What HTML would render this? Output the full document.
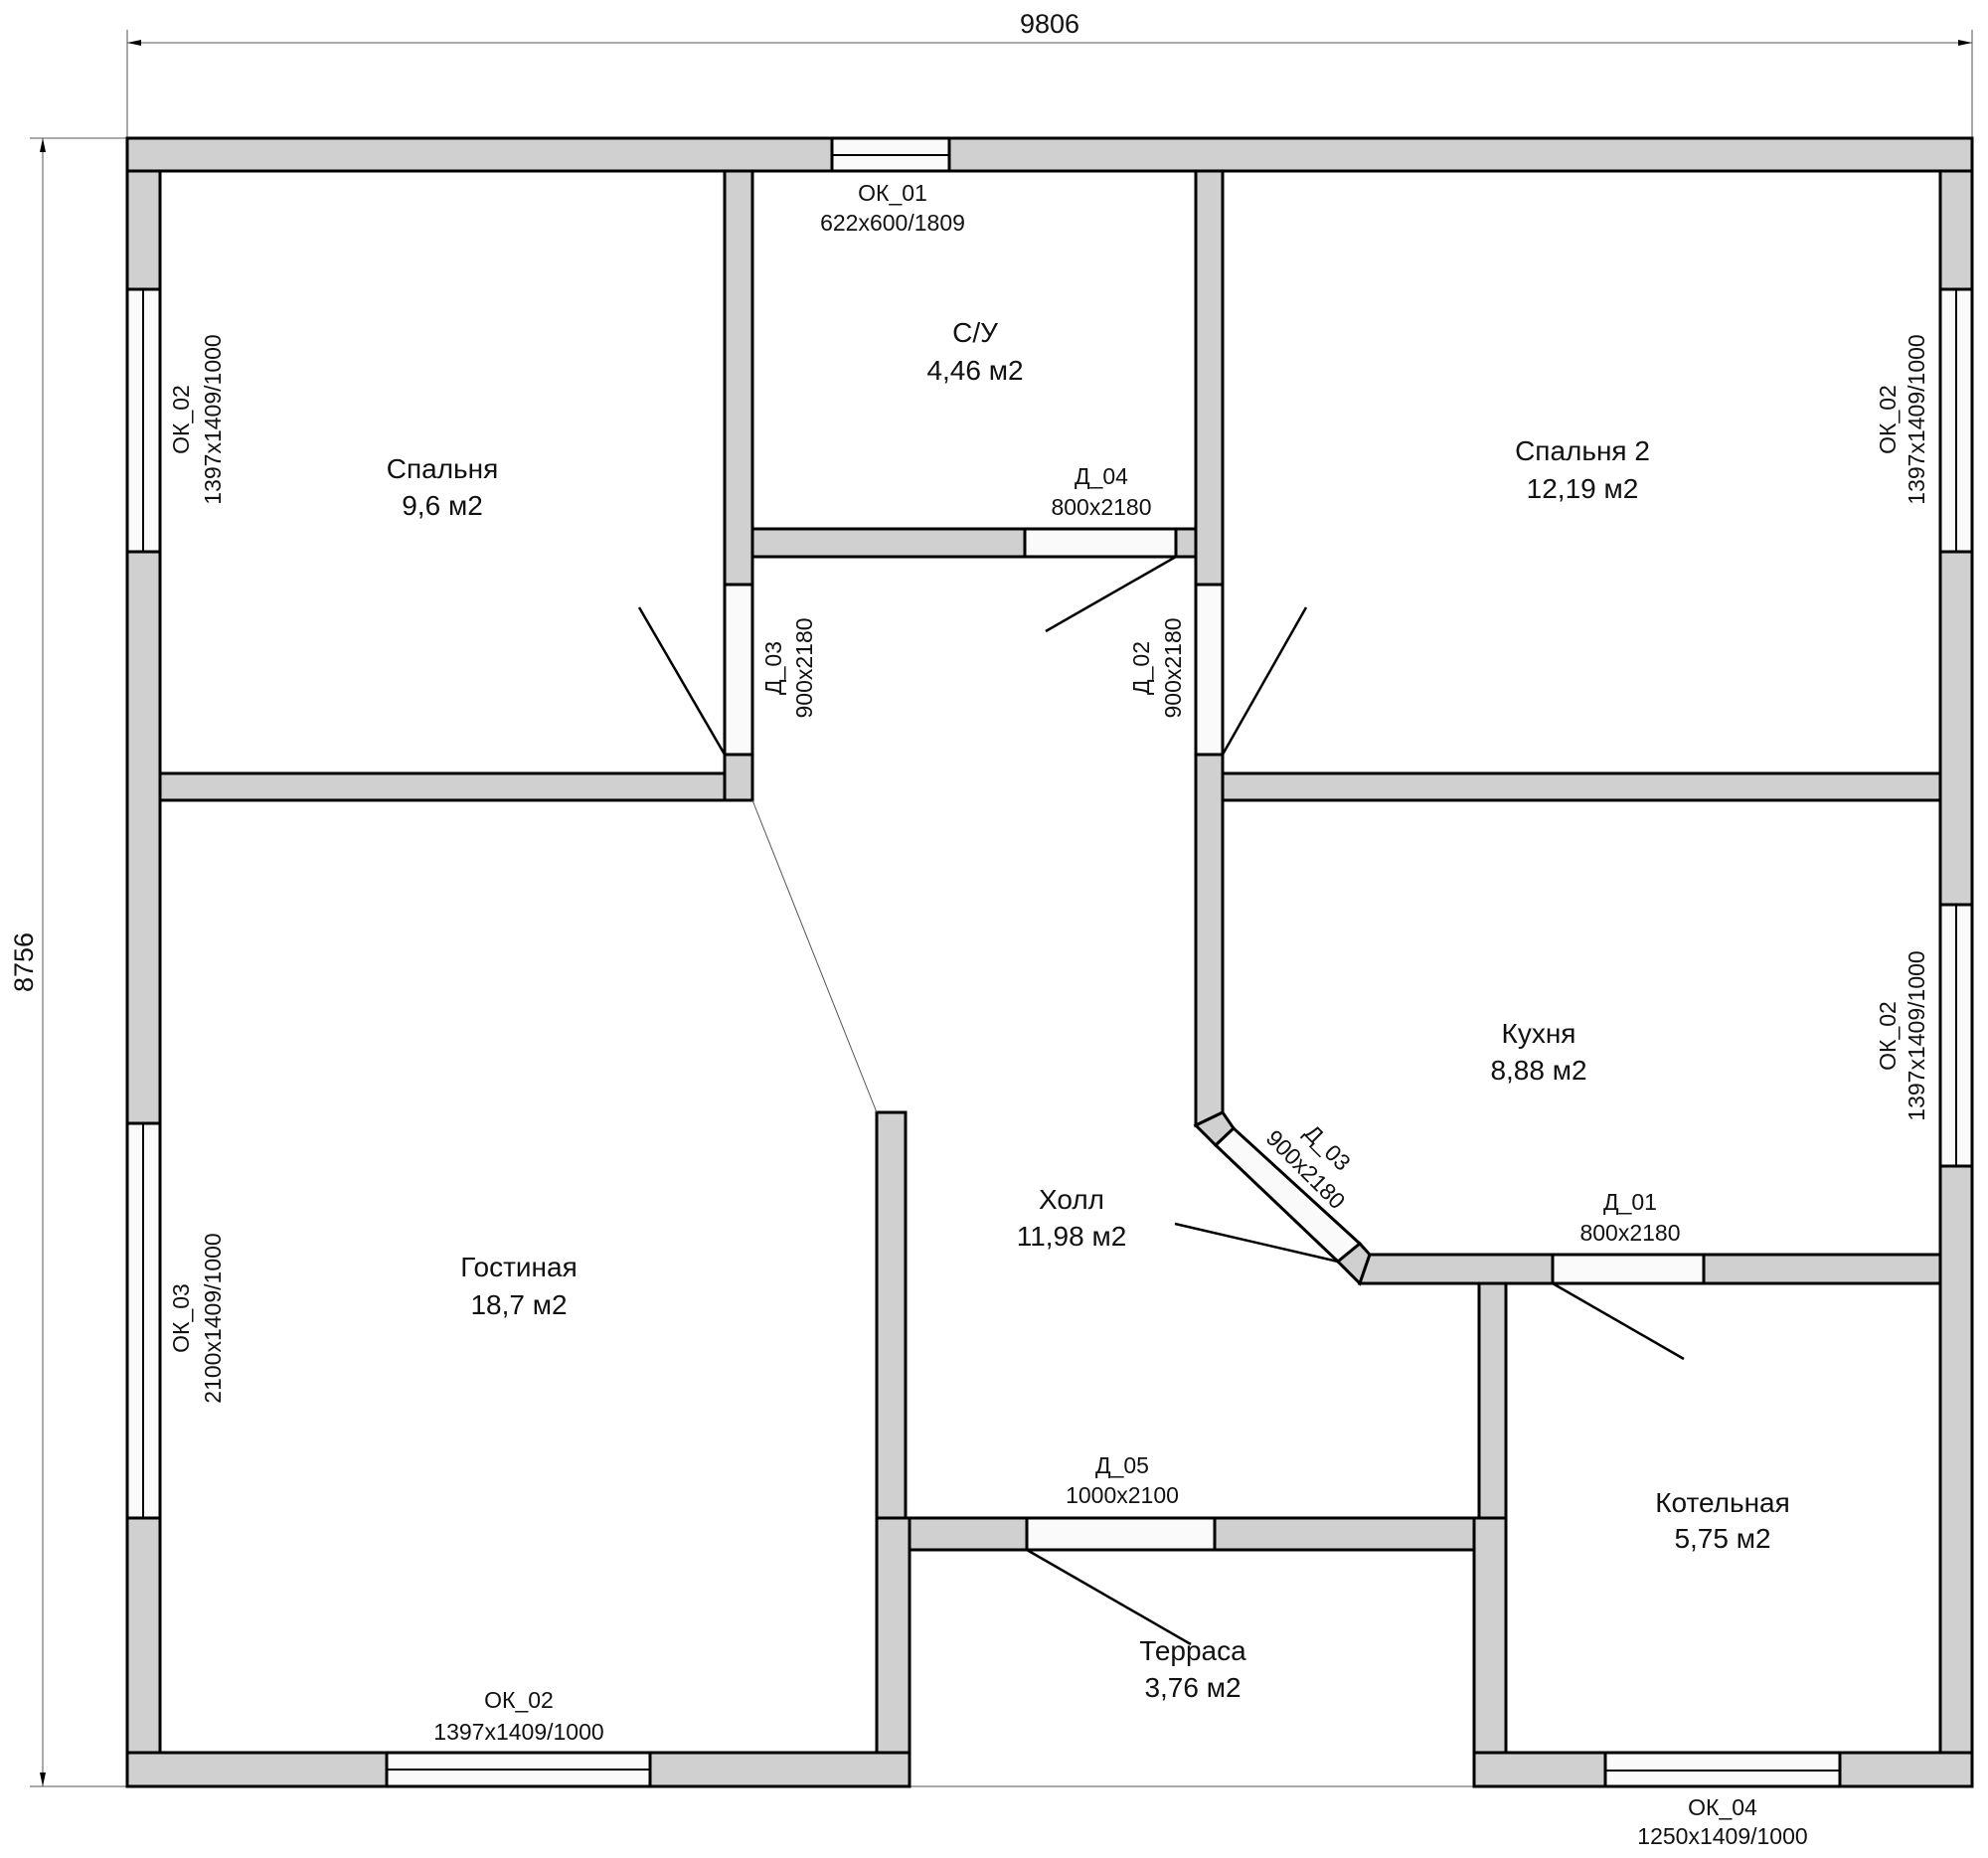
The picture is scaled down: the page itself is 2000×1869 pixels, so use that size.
<!DOCTYPE html>
<html><head><meta charset="utf-8"><style>
html,body{margin:0;padding:0;background:#fff;}
svg{display:block;}
text{font-family:"Liberation Sans",sans-serif;fill:#111;text-anchor:middle;}
.r{font-size:28px;}
.s{font-size:23px;}
.w{fill:#d0d0d0;stroke:#000;stroke-width:3;}
.o{fill:#fafafa;stroke:#000;stroke-width:3;}
.t{stroke:#000;stroke-width:2;fill:none;}
.d{stroke:#555;stroke-width:1;fill:none;}
.sw{stroke:#000;stroke-width:2.5;fill:none;}
</style></head><body>
<svg width="2000" height="1869" viewBox="0 0 2000 1869" xmlns="http://www.w3.org/2000/svg">
<line class="d" x1="128" y1="43" x2="1984" y2="43"/>
<polygon points="128,43 142,40 142,46" fill="#000"/>
<polygon points="1984,43 1970,40 1970,46" fill="#000"/>
<line class="d" x1="128" y1="30" x2="128" y2="139"/>
<line class="d" x1="1984" y1="30" x2="1984" y2="139"/>
<text x="1056" y="33" style="font-size:27px">9806</text>
<line class="d" x1="43" y1="139" x2="43" y2="1797"/>
<polygon points="43,139 40,153 46,153" fill="#000"/>
<polygon points="43,1797 40,1783 46,1783" fill="#000"/>
<line class="d" x1="30" y1="139" x2="128" y2="139"/>
<line class="d" x1="30" y1="1797" x2="1483" y2="1797"/>
<text transform="translate(33,968) rotate(-90)" style="font-size:27px">8756</text>

<rect class="w" x="128" y="139" width="709" height="33"/>
<rect class="w" x="955" y="139" width="1029" height="33"/>
<rect class="o" x="837" y="139" width="118" height="33"/>
<line class="t" x1="837" y1="156" x2="955" y2="156"/>
<rect class="w" x="128" y="172" width="33" height="119"/>
<rect class="o" x="128" y="291" width="33" height="264"/><line class="t" x1="144" y1="291" x2="144" y2="555"/>
<rect class="w" x="128" y="555" width="33" height="575"/>
<rect class="o" x="128" y="1130" width="33" height="397"/><line class="t" x1="144" y1="1130" x2="144" y2="1527"/>
<rect class="w" x="128" y="1527" width="33" height="236"/>
<rect class="w" x="128" y="1763" width="261" height="34"/>
<rect class="o" x="389" y="1763" width="265" height="34"/><line class="t" x1="389" y1="1780" x2="654" y2="1780"/>
<rect class="w" x="654" y="1763" width="261" height="34"/>
<rect class="w" x="1952" y="172" width="32" height="119"/>
<rect class="o" x="1952" y="291" width="32" height="264"/><line class="t" x1="1968" y1="291" x2="1968" y2="555"/>
<rect class="w" x="1952" y="555" width="32" height="355"/>
<rect class="o" x="1952" y="910" width="32" height="263"/><line class="t" x1="1968" y1="910" x2="1968" y2="1173"/>
<rect class="w" x="1952" y="1173" width="32" height="590"/>
<rect class="w" x="1483" y="1763" width="132" height="34"/>
<rect class="o" x="1615" y="1763" width="236" height="34"/><line class="t" x1="1615" y1="1781" x2="1851" y2="1781"/>
<rect class="w" x="1851" y="1763" width="133" height="34"/>

<rect class="w" x="729" y="172" width="28" height="416"/>
<rect class="o" x="729" y="588" width="28" height="171"/>
<rect class="w" x="729" y="759" width="28" height="46"/>
<rect class="w" x="161" y="778" width="568" height="27"/>
<rect class="w" x="757" y="532" width="274" height="28"/>
<rect class="o" x="1031" y="532" width="152" height="28"/>
<rect class="w" x="1183" y="532" width="20" height="28"/>
<rect class="w" x="1203" y="172" width="27" height="416"/>
<rect class="o" x="1203" y="588" width="27" height="171"/>
<polygon class="w" points="1203,759 1230,759 1230,1119 1203,1132"/>
<rect class="w" x="1230" y="778" width="722" height="27"/>
<polygon class="w" points="1203,1132 1230,1119 1241,1135 1223,1152"/>
<polygon class="o" points="1223,1152 1241,1135 1368,1251 1346,1269"/>
<polygon class="w" points="1346,1269 1368,1251 1378,1262 1368,1291"/>
<polygon class="w" points="1368,1291 1378,1262 1562,1262 1562,1291"/>
<rect class="o" x="1562" y="1262" width="152" height="29"/>
<rect class="w" x="1714" y="1262" width="238" height="29"/>
<rect class="w" x="1488" y="1291" width="27" height="236"/>
<rect class="w" x="1483" y="1527" width="32" height="236"/>
<rect class="w" x="915" y="1527" width="118" height="32"/>
<rect class="o" x="1033" y="1527" width="189" height="32"/>
<rect class="w" x="1222" y="1527" width="261" height="32"/>
<rect class="w" x="882" y="1119" width="29" height="408"/>
<rect class="w" x="882" y="1527" width="33" height="236"/>

<line class="sw" x1="643" y1="611" x2="729" y2="759"/>
<line class="sw" x1="1183" y1="560" x2="1052" y2="635"/>
<line class="sw" x1="1230" y1="759" x2="1314" y2="611"/>
<line class="sw" x1="1182" y1="1231" x2="1346" y2="1269"/>
<line class="sw" x1="1562" y1="1291" x2="1694" y2="1367"/>
<line class="sw" x1="1033" y1="1559" x2="1198" y2="1654"/>
<line class="d" x1="757" y1="805" x2="882" y2="1119" stroke="#333"/>

<text class="r" x="445" y="481">Спальня</text><text class="r" x="445" y="518">9,6 м2</text>
<text class="r" x="981" y="344">С/У</text><text class="r" x="981" y="382">4,46 м2</text>
<text class="r" x="1592" y="463">Спальня 2</text><text class="r" x="1592" y="501">12,19 м2</text>
<text class="r" x="1548" y="1049">Кухня</text><text class="r" x="1548" y="1086">8,88 м2</text>
<text class="r" x="1078" y="1216">Холл</text><text class="r" x="1078" y="1253">11,98 м2</text>
<text class="r" x="522" y="1284">Гостиная</text><text class="r" x="522" y="1322">18,7 м2</text>
<text class="r" x="1733" y="1521">Котельная</text><text class="r" x="1733" y="1557">5,75 м2</text>
<text class="r" x="1200" y="1670">Терраса</text><text class="r" x="1200" y="1707">3,76 м2</text>

<text class="s" x="898" y="202">ОК_01</text><text class="s" x="898" y="232">622x600/1809</text>
<text class="s" x="1108" y="487">Д_04</text><text class="s" x="1108" y="518">800x2180</text>
<text class="s" x="1640" y="1217">Д_01</text><text class="s" x="1640" y="1248">800x2180</text>
<text class="s" x="1129" y="1482">Д_05</text><text class="s" x="1129" y="1512">1000x2100</text>
<text class="s" x="522" y="1718">ОК_02</text><text class="s" x="522" y="1750">1397x1409/1000</text>
<text class="s" x="1733" y="1826">ОК_04</text><text class="s" x="1733" y="1855">1250x1409/1000</text>
<text class="s" transform="translate(190,422) rotate(-90)">ОК_02</text>
<text class="s" transform="translate(222,422) rotate(-90)">1397x1409/1000</text>
<text class="s" transform="translate(190,1326) rotate(-90)">ОК_03</text>
<text class="s" transform="translate(222,1326) rotate(-90)">2100x1409/1000</text>
<text class="s" transform="translate(1907,422) rotate(-90)">ОК_02</text>
<text class="s" transform="translate(1936,422) rotate(-90)">1397x1409/1000</text>
<text class="s" transform="translate(1907,1042) rotate(-90)">ОК_02</text>
<text class="s" transform="translate(1936,1042) rotate(-90)">1397x1409/1000</text>
<text class="s" transform="translate(786,672) rotate(-90)">Д_03</text>
<text class="s" transform="translate(817,672) rotate(-90)">900x2180</text>
<text class="s" transform="translate(1156,672) rotate(-90)">Д_02</text>
<text class="s" transform="translate(1188,672) rotate(-90)">900x2180</text>
<text class="s" transform="translate(1330,1160) rotate(45)">Д_03</text>
<text class="s" transform="translate(1308,1182) rotate(45)">900x2180</text>
</svg>
</body></html>
